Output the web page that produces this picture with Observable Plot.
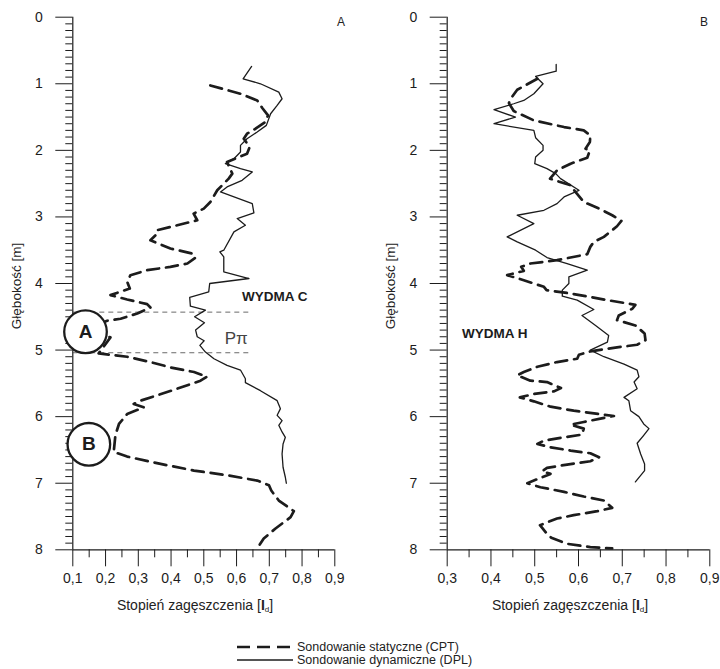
<!DOCTYPE html>
<html><head><meta charset="utf-8">
<script src="https://cdn.jsdelivr.net/npm/d3@7"></script>
<script src="https://cdn.jsdelivr.net/npm/@observablehq/plot@0.6"></script>
<style>
body{margin:0;background:#fff;font-family:"Liberation Sans",Arial,sans-serif;color:#222}
#wrap{position:relative;width:720px;height:669px;overflow:hidden}
.abs{position:absolute;white-space:nowrap}
.ytitle{font-size:13.5px;transform:translate(-50%,-50%) rotate(-90deg)}
.xtitle{font-size:14px;transform:translateX(-50%)}
.xtitle sub{font-size:8px;vertical-align:-2px}
.corner{font-size:12px}
.leg{font-size:12.5px;line-height:12px;display:flex;align-items:center;height:12px}
</style></head>
<body><div id="wrap"></div>
<script>
// ---- data: [Id value, depth m] ----
const leftDPL = [[0.646,0.74],[0.620,0.925],[0.673,1.0],[0.729,1.125],[0.739,1.225],[0.724,1.325],[0.704,1.45],[0.691,1.625],[0.663,1.725],[0.632,1.825],[0.612,1.925],[0.612,2.025],[0.592,2.125],[0.566,2.2],[0.612,2.275],[0.648,2.325],[0.617,2.45],[0.571,2.55],[0.551,2.625],[0.648,2.8],[0.653,2.94],[0.602,3.025],[0.627,3.125],[0.592,3.225],[0.561,3.5],[0.549,3.525],[0.561,3.6],[0.561,3.825],[0.638,3.925],[0.518,4.0],[0.515,4.125],[0.457,4.21],[0.459,4.34],[0.505,4.40],[0.472,4.50],[0.502,4.59],[0.475,4.70],[0.480,4.80],[0.501,4.86],[0.488,4.93],[0.505,5.03],[0.531,5.13],[0.571,5.23],[0.612,5.30],[0.627,5.43],[0.627,5.49],[0.673,5.61],[0.724,5.76],[0.734,5.88],[0.724,5.98],[0.739,6.06],[0.729,6.13],[0.739,6.23],[0.749,6.31],[0.742,6.41],[0.739,6.56],[0.742,6.76],[0.749,6.91],[0.752,7.0]];
const leftCPT = [[0.520,1.025],[0.612,1.15],[0.663,1.25],[0.678,1.36],[0.696,1.475],[0.688,1.575],[0.658,1.675],[0.632,1.75],[0.622,1.825],[0.640,1.95],[0.632,2.05],[0.571,2.175],[0.587,2.35],[0.576,2.425],[0.541,2.6],[0.520,2.775],[0.500,2.875],[0.469,2.95],[0.480,3.05],[0.419,3.125],[0.357,3.2],[0.356,3.26],[0.337,3.35],[0.398,3.475],[0.465,3.55],[0.475,3.61],[0.450,3.7],[0.398,3.75],[0.327,3.8],[0.276,3.875],[0.266,3.975],[0.274,4.075],[0.215,4.175],[0.266,4.24],[0.327,4.31],[0.337,4.36],[0.297,4.45],[0.246,4.53],[0.205,4.56],[0.160,4.65],[0.170,4.75],[0.215,4.81],[0.179,5.05],[0.266,5.10],[0.337,5.18],[0.398,5.26],[0.470,5.33],[0.510,5.40],[0.490,5.46],[0.419,5.58],[0.357,5.68],[0.307,5.76],[0.286,5.81],[0.317,5.86],[0.266,5.96],[0.241,6.11],[0.230,6.28],[0.225,6.53],[0.266,6.60],[0.368,6.71],[0.470,6.81],[0.571,6.88],[0.663,6.96],[0.699,7.03],[0.706,7.11],[0.729,7.26],[0.775,7.42],[0.765,7.51],[0.719,7.68],[0.683,7.83],[0.663,7.98]];
const rightDPL = [[0.549,0.71],[0.549,0.81],[0.502,0.89],[0.519,1.0],[0.498,1.15],[0.475,1.25],[0.452,1.30],[0.407,1.39],[0.456,1.50],[0.407,1.60],[0.498,1.70],[0.502,1.81],[0.519,1.925],[0.519,2.0],[0.502,2.1],[0.500,2.2],[0.528,2.275],[0.548,2.35],[0.559,2.425],[0.601,2.6],[0.567,2.7],[0.551,2.8],[0.521,2.9],[0.460,2.975],[0.498,3.1],[0.437,3.3],[0.460,3.375],[0.502,3.5],[0.528,3.61],[0.574,3.7],[0.620,3.8],[0.578,3.9],[0.578,4.0],[0.563,4.1],[0.563,4.19],[0.597,4.25],[0.635,4.39],[0.608,4.48],[0.639,4.63],[0.669,4.78],[0.666,4.88],[0.627,5.0],[0.658,5.10],[0.704,5.21],[0.734,5.30],[0.738,5.40],[0.727,5.48],[0.734,5.58],[0.704,5.71],[0.715,5.76],[0.719,5.91],[0.738,6.0],[0.749,6.11],[0.761,6.18],[0.749,6.28],[0.734,6.40],[0.742,6.56],[0.751,6.71],[0.751,6.81],[0.730,6.98]];
const rightCPT = [[0.506,0.925],[0.460,1.09],[0.445,1.225],[0.441,1.29],[0.452,1.41],[0.498,1.55],[0.567,1.65],[0.612,1.70],[0.627,1.775],[0.626,1.875],[0.616,1.975],[0.626,2.0],[0.620,2.11],[0.582,2.2],[0.551,2.3],[0.535,2.425],[0.551,2.46],[0.582,2.525],[0.593,2.625],[0.612,2.775],[0.647,2.875],[0.677,2.975],[0.698,3.06],[0.688,3.14],[0.658,3.3],[0.635,3.375],[0.627,3.45],[0.620,3.56],[0.551,3.65],[0.490,3.7],[0.469,3.75],[0.475,3.81],[0.437,3.875],[0.475,3.95],[0.521,4.05],[0.527,4.10],[0.582,4.15],[0.666,4.25],[0.730,4.32],[0.723,4.38],[0.692,4.48],[0.688,4.55],[0.730,4.63],[0.751,4.75],[0.753,4.85],[0.734,4.92],[0.688,4.96],[0.627,5.02],[0.601,5.07],[0.597,5.13],[0.551,5.18],[0.506,5.25],[0.475,5.33],[0.460,5.38],[0.490,5.46],[0.528,5.48],[0.560,5.57],[0.544,5.62],[0.498,5.66],[0.466,5.71],[0.498,5.77],[0.536,5.85],[0.589,5.91],[0.658,5.97],[0.681,5.99],[0.650,6.03],[0.612,6.08],[0.582,6.12],[0.612,6.18],[0.608,6.27],[0.567,6.31],[0.521,6.36],[0.506,6.41],[0.536,6.46],[0.582,6.51],[0.627,6.55],[0.647,6.61],[0.627,6.67],[0.574,6.72],[0.528,6.77],[0.517,6.82],[0.536,6.86],[0.513,6.92],[0.483,7.0],[0.513,7.06],[0.567,7.13],[0.612,7.20],[0.658,7.26],[0.677,7.37],[0.643,7.42],[0.589,7.48],[0.551,7.53],[0.512,7.63],[0.528,7.76],[0.538,7.82],[0.574,7.91],[0.627,7.96],[0.677,7.98]];

// tick labels
const yTicks = [0,1,2,3,4,5,6,7,8];
const xTicksLeft = [0.1,0.2,0.3,0.4,0.5,0.6,0.7,0.8,0.9];
const xTicksRight = [0.3,0.4,0.5,0.6,0.7,0.8,0.9];
// annotations
const guideDepths = [4.43, 5.04];
const zoneLabels = [{v:0.1388,d:4.725,t:"A"},{v:0.1490,d:6.415,t:"B"}];
const siteLeft = {v:0.617,d:4.20,t:"WYDMA C"};
const siteRight = {v:0.334,d:4.75,t:"WYDMA H"};
const piLabel = {v:0.599,d:4.82,t:"Pπ"};

const fmt = d => d.toFixed(1).replace(".", ",");
const INK = "#1c1c1c";

function panel(opts){
  const {width, marginLeft, marginRight, domain, majors, dpl, cpt, extra} = opts;
  const minorY = d3.range(1,80).map(i=>i/10).filter(v=>Math.abs(v-Math.round(v))>1e-6);
  const minorX = majors.slice(0,-1).map(v=>+(v+0.05).toFixed(2));
  return Plot.plot({
    width, height: 600, marginTop: 16.7, marginBottom: 50.7, marginLeft, marginRight,
    x: {domain, label: null},
    y: {domain: [0,8], reverse: true, label: null},
    style: {fontFamily: '"Liberation Sans", Arial, sans-serif', fontSize: "14px", color: INK, background: "transparent", overflow: "visible"},
    marks: [
      Plot.axisY(minorY, {anchor: "left", tickSize: 7, tickFormat: () => "", strokeWidth: 1}),
      Plot.axisY(yTicks, {anchor: "left", tickSize: 17, tickPadding: 13, tickFormat: d => String(d), strokeWidth: 1}),
      Plot.axisX(minorX, {anchor: "bottom", tickSize: 8, tickFormat: () => "", strokeWidth: 1}),
      Plot.axisX(majors, {anchor: "bottom", tickSize: 17, tickPadding: 6, tickFormat: fmt, strokeWidth: 1}),
      Plot.ruleX([domain[0]], {y1: 0, y2: 8, stroke: INK, strokeWidth: 1.2}),
      Plot.ruleY([8], {x1: domain[0], x2: domain[1], stroke: INK, strokeWidth: 1.2}),
      ...(extra.pre || []),
      Plot.line(dpl, {x: d => d[0], y: d => d[1], stroke: INK, strokeWidth: 1.3, curve: "linear"}),
      Plot.line(cpt, {x: d => d[0], y: d => d[1], stroke: INK, strokeWidth: 2.7, strokeDasharray: "12,7", curve: "linear"}),
      ...(extra.post || [])
    ]
  });
}

const left = panel({
  width: 375, marginLeft: 72.3, marginRight: 40.7, domain: [0.1,0.9], majors: xTicksLeft,
  dpl: leftDPL, cpt: leftCPT,
  extra: {
    pre: [Plot.ruleY(guideDepths, {x1: 0.1, x2: 0.643, stroke: "#444", strokeWidth: 0.8, strokeDasharray: "5,4"})],
    post: [
      Plot.dot(zoneLabels, {x: "v", y: "d", r: 21.3, fill: "white", stroke: INK, strokeWidth: 2.3}),
      Plot.text(zoneLabels, {x: "v", y: "d", text: "t", fontSize: 19, fontWeight: "bold", fill: INK}),
      Plot.text([siteLeft], {x: "v", y: "d", text: "t", fontSize: 13.5, fontWeight: "bold", textAnchor: "start", fill: INK}),
      Plot.text([piLabel], {x: "v", y: "d", text: "t", fontSize: 17, fill: "#444"})
    ]
  }
});
const right = panel({
  width: 345, marginLeft: 71.7, marginRight: 10.7, domain: [0.3,0.9], majors: xTicksRight,
  dpl: rightDPL, cpt: rightCPT,
  extra: {
    post: [Plot.text([siteRight], {x: "v", y: "d", text: "t", fontSize: 13.5, fontWeight: "bold", textAnchor: "start", fill: INK})]
  }
});

const wrap = document.getElementById("wrap");
left.style.position = "absolute"; left.style.left = "0px"; left.style.top = "0px";
right.style.position = "absolute"; right.style.left = "375px"; right.style.top = "0px";
wrap.appendChild(left); wrap.appendChild(right);

function add(html, cls, css){
  const el = document.createElement("div");
  el.className = "abs " + cls; el.innerHTML = html;
  Object.assign(el.style, css); wrap.appendChild(el); return el;
}
add("Głębokość [m]", "ytitle", {left: "16px", top: "286px"});
add("Głębokość [m]", "ytitle", {left: "390px", top: "286px"});
add("Stopień zagęszczenia [<b>I</b><sub>d</sub>]", "xtitle", {left: "195px", top: "597px"});
add("Stopień zagęszczenia [<b>I</b><sub>d</sub>]", "xtitle", {left: "570px", top: "597px"});
add("A", "corner", {left: "337px", top: "15px"});
add("B", "corner", {left: "700px", top: "15px"});
add('<svg width="58" height="6"><line x1="1" y1="3" x2="57" y2="3" stroke="#1c1c1c" stroke-width="2.7" stroke-dasharray="13,7"/></svg><span style="margin-left:3px">Sondowanie statyczne (CPT)</span>', "leg", {left: "236px", top: "641px"});
add('<svg width="58" height="6"><line x1="1" y1="3" x2="57" y2="3" stroke="#1c1c1c" stroke-width="1.3"/></svg><span style="margin-left:3px">Sondowanie dynamiczne (DPL)</span>', "leg", {left: "236px", top: "654px"});
</script></body></html>
